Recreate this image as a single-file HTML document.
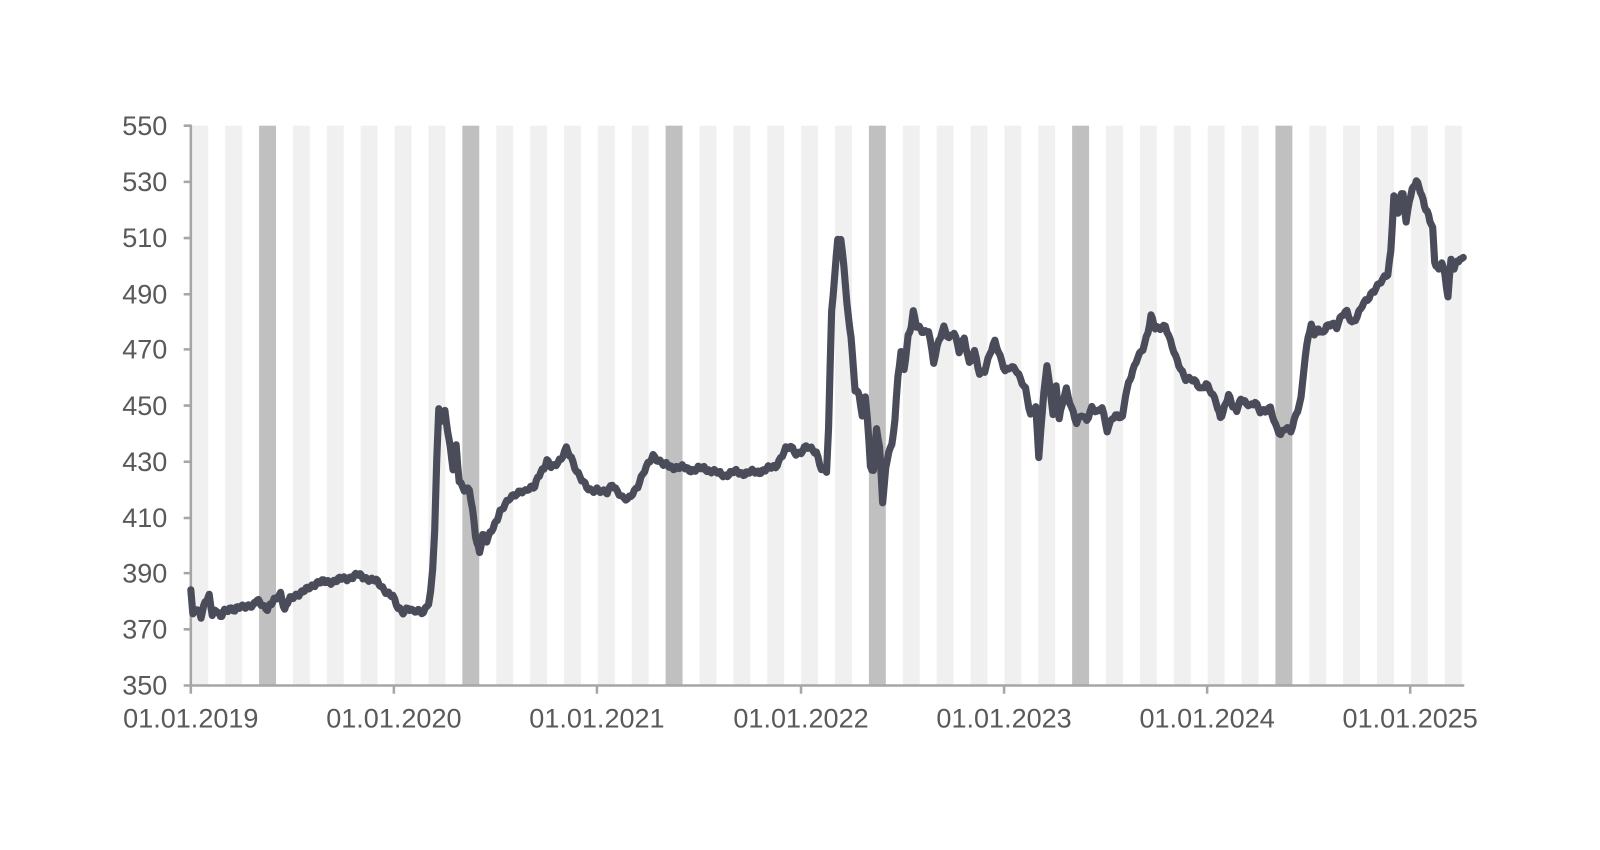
<!DOCTYPE html>
<html><head><meta charset="utf-8"><style>html,body{margin:0;padding:0;background:#fff;overflow:hidden}svg{display:block}</style></head>
<body>
<svg width="1600" height="850" viewBox="0 0 1568 832" preserveAspectRatio="none" xmlns="http://www.w3.org/2000/svg" font-family="Liberation Sans, sans-serif">
<g id="stripes"></g>
<g stroke="#a6a6a6" stroke-width="2.5" fill="none">
<line x1="187" y1="122" x2="187" y2="672"/>
<line x1="180" y1="671" x2="1435" y2="671"/>
<path d="M180 123H187M180 178H187M180 233H187M180 288H187M180 342H187M180 397H187M180 452H187M180 507H187M180 561H187M180 616H187"/>
<path d="M187 671V679M386 671V679M585 671V679M785 671V679M984 671V679M1183 671V679M1382 671V679"/>
</g>
<g fill="#595959" font-size="26.5" text-anchor="end">
<text x="164" y="132">550</text><text x="164" y="187">530</text><text x="164" y="242">510</text><text x="164" y="297">490</text><text x="164" y="351">470</text><text x="164" y="406">450</text><text x="164" y="461">430</text><text x="164" y="516">410</text><text x="164" y="570">390</text><text x="164" y="625">370</text><text x="164" y="680">350</text>
</g>
<g fill="#595959" font-size="26.5" text-anchor="middle">
<text x="187" y="712">01.01.2019</text><text x="386" y="712">01.01.2020</text><text x="585" y="712">01.01.2021</text><text x="785" y="712">01.01.2022</text><text x="984" y="712">01.01.2023</text><text x="1183" y="712">01.01.2024</text><text x="1382" y="712">01.01.2025</text>
</g>
<polyline id="ln" fill="none" stroke="#4a4c5a" stroke-width="7" stroke-linejoin="round" stroke-linecap="round" points=""/>
</svg>
<script>
(function(){var g=document.getElementById('stripes'),ns='http://www.w3.org/2000/svg';
for(var m=0;m<=74;m+=2){var x=187+m*16.6+0.5,w=Math.min(16.6,1434-x);if(w<=0)break;
var r=document.createElementNS(ns,'rect');r.setAttribute('x',x);r.setAttribute('y',123);r.setAttribute('width',w);r.setAttribute('height',548);
r.setAttribute('fill',(m%12==4)?'#c0c0c0':'#f0f0f0');g.appendChild(r);}
var p="187,575 189,600 193,595 197,605 201,590 205,582 208,600 212,598 216,605 220,597 225,595 230,598 236,594 242,592 248,594 252,588 256,590 262,596 266,592 270,586 275,580 279,597 283,588 290,582 300,578 310,570 320,570 330,568 340,566 350,563 360,566 370,570 378,578 385,585 390,595 395,598 400,595 405,600 410,598 415,598 420,590 422,580 424,560 426,520 428,450 430,402 433,410 436,402 440,430 444,460 447,437 450,470 455,478 460,480 463,500 466,525 470,540 473,522 477,530 482,520 486,510 490,500 495,495 500,488 505,483 510,480 515,482 520,478 524,475 527,466 530,462 533,460 536,452 540,456 545,453 550,450 555,440 560,448 565,460 570,470 575,478 580,480 585,478 590,482 595,483 600,473 605,480 610,488 615,490 620,482 625,475 630,465 635,455 640,445 645,450 650,455 660,457 670,458 680,460 690,458 700,462 710,465 720,462 730,463 740,462 750,460 760,456 765,448 770,440 775,438 780,443 785,442 790,438 795,440 800,442 805,458 810,462 812,420 815,305 818,270 821,232 824,235 827,260 830,300 834,330 838,380 842,386 845,410 848,388 850,410 853,455 856,460 859,418 862,440 865,492 868,460 871,440 874,435 877,410 880,370 883,345 886,362 890,328 893,318 895,305 898,320 905,325 910,322 915,355 920,335 925,320 930,330 935,326 940,345 945,330 950,355 955,345 960,367 965,362 970,345 975,335 980,350 985,362 990,358 995,362 1000,372 1005,380 1010,405 1015,398 1018,450 1020,420 1023,385 1026,355 1029,380 1032,405 1035,380 1038,410 1042,390 1045,380 1050,400 1055,415 1060,405 1065,410 1070,400 1075,405 1080,398 1085,420 1090,410 1095,408 1100,408 1103,385 1106,375 1110,365 1115,350 1120,340 1125,325 1128,310 1132,322 1137,320 1142,318 1147,335 1152,350 1157,360 1162,370 1167,372 1172,375 1177,380 1182,375 1187,385 1192,395 1196,408 1200,398 1204,388 1208,398 1212,400 1216,390 1220,395 1225,398 1230,392 1235,402 1240,404 1245,400 1250,415 1255,425 1260,420 1265,422 1270,405 1275,390 1278,360 1282,330 1285,318 1288,325 1292,322 1296,328 1300,320 1305,315 1310,320 1315,310 1320,305 1325,315 1330,310 1335,300 1340,293 1345,285 1350,280 1355,275 1360,268 1363,245 1366,190 1370,208 1372,195 1375,190 1378,218 1381,195 1384,185 1388,178 1392,188 1396,200 1400,210 1404,225 1406,258 1410,265 1413,255 1416,268 1419,290 1422,255 1425,265 1428,255 1434,252";
var pts=p.split(' ').map(function(s){var a=s.split(',');return [+a[0],+a[1]];});
var out=[],k=0;
for(var i=0;i<pts.length-1;i++){var a=pts[i],b=pts[i+1],n=Math.max(1,Math.round((b[0]-a[0])/1.5));
for(var j=0;j<n;j++){var t=j/n,x=a[0]+(b[0]-a[0])*t,y=a[1]+(b[1]-a[1])*t;k++;
var nz=Math.sin(k*1.7)*1.6+Math.sin(k*0.53)*1.4;out.push(x.toFixed(1)+','+(y+nz).toFixed(1));}}
out.push(pts[pts.length-1].join(','));
document.getElementById('ln').setAttribute('points',out.join(' '));})();
</script>
</body></html>
